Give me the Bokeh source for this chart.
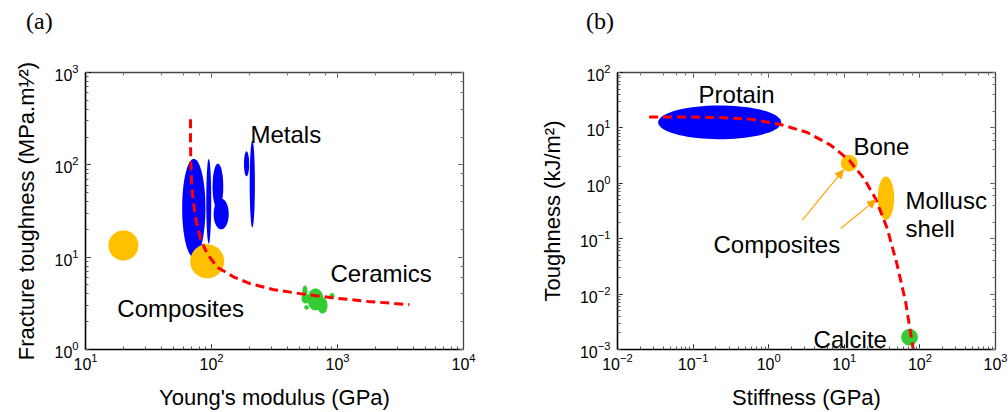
import numpy as np
from bokeh.plotting import figure
from bokeh.models import LogAxis, Label, Arrow, NormalHead, CustomJSTickFormatter, Div
from bokeh.layouts import row, column
from bokeh.embed import file_html
from bokeh.resources import INLINE

# ---------------- Panel (a): fracture toughness vs Young's modulus ----------------
# each region given as its range: modulus (GPa) low/high, toughness (MPa.m^1/2) low/high
metals_E_lo = [58.5, 90.9, 102, 104, 181, 201]
metals_E_hi = [89.5, 99.5, 124, 137, 199, 221]
metals_K_lo = [10.0, 14.0, 33, 20, 75, 21]
metals_K_hi = [116, 116, 103, 43, 140, 183]

compa_E_lo = [15.2, 67.8]
compa_E_hi = [26.3, 126]
compa_K_lo = [9.2, 5.9]
compa_K_hi = [19.5, 13.8]

ceram_E_lo = [578, 693, 527, 545, 864, 518]
ceram_E_hi = [774, 833, 578, 591, 947, 600]
ceram_K_lo = [2.65, 2.45, 3.85, 2.70, 3.52, 3.15]
ceram_K_hi = [4.58, 3.66, 4.93, 3.02, 4.09, 4.04]

trend_a_E = [68.1, 68.1, 68.5, 69.3, 71.5, 75.5, 81.7, 92.4, 110.9, 150.6, 204, 313, 511, 940, 1734, 3715]
trend_a_K = [311, 181.6, 110.5, 67.2, 40.9, 24.9, 15.8, 10.9, 7.8, 6.09, 5.15, 4.44, 4.02, 3.61, 3.32, 3.06]

# ---------------- Panel (b): toughness vs stiffness ----------------
protein_E = [0.0345, 1.463]
protein_T = [6.25, 25.4]
bone_E = [9.0, 14.95]
bone_T = [1.63, 3.25]
mollusc_E = [27.7, 45.7]
mollusc_T = [0.219, 1.33]
calcite_E = [56.6, 93.8]
calcite_T = [0.00118, 0.002355]

trend_b_E = [0.0262, 0.076, 0.21, 0.578, 1.44, 3.25, 6.6, 11.6, 18.2, 25.9, 37.0, 50.1, 64.7, 81.7]
trend_b_T = [15.8, 15.8, 15.4, 14.4, 11.5, 8.26, 4.88, 2.62, 1.22, 0.532, 0.153, 0.0333, 0.00725, 0.001]

arrow_from_E = [2.79, 8.95]
arrow_from_T = [0.216, 0.153]
arrow_to_E = [9.7, 25.9]
arrow_to_T = [1.73, 0.497]

BLUE = "#0000FF"
ORANGE = "#FFC000"
GREEN = "#33CC33"
RED = "#FF0000"
ARROW = "#FFA500"
FONT = "Liberation Sans"


def ellipse_outline(xlo, xhi, ylo, yhi, n=72):
    """Outline of an ellipse spanning a data range, built in log space."""
    lx0, lx1 = np.log10(xlo), np.log10(xhi)
    ly0, ly1 = np.log10(ylo), np.log10(yhi)
    cx, cy = (lx0 + lx1) / 2, (ly0 + ly1) / 2
    rx, ry = (lx1 - lx0) / 2, (ly1 - ly0) / 2
    t = np.linspace(0, 2 * np.pi, n)
    return list(10 ** (cx + rx * np.cos(t))), list(10 ** (cy + ry * np.sin(t)))


def regions(xlo, xhi, ylo, yhi):
    xs, ys = [], []
    for a, b, c, d in zip(xlo, xhi, ylo, yhi):
        ex, ey = ellipse_outline(a, b, c, d)
        xs.append(ex)
        ys.append(ey)
    return xs, ys


def style(p):
    p.xgrid.visible = False
    p.ygrid.visible = False
    p.outline_line_color = None
    p.background_fill_color = "white"
    p.border_fill_color = "white"
    for ax in (p.xaxis[0], p.yaxis[0]):
        ax.axis_line_color = "black"
        ax.axis_line_width = 1.6
        ax.major_tick_in = 5
        ax.major_tick_out = 0
        ax.minor_tick_in = 3
        ax.minor_tick_out = 0
        ax.major_tick_line_color = "black"
        ax.minor_tick_line_color = "#555555"
        ax.major_label_text_font = FONT
        ax.major_label_text_font_size = "16px"
        ax.major_label_text_color = "black"
        ax.axis_label_text_font = FONT
        ax.axis_label_text_font_size = "22px"
        ax.axis_label_text_font_style = "normal"
        ax.axis_label_text_color = "black"
    p.xaxis[0].major_label_standoff = 3
    p.yaxis[0].major_label_standoff = 7
    p.xaxis[0].axis_label_standoff = 12
    p.yaxis[0].axis_label_standoff = 12
    for loc in ("above", "right"):
        ax = LogAxis(formatter=CustomJSTickFormatter(code="return ''"))
        ax.axis_line_color = "#444444"
        ax.axis_line_width = 1.3
        ax.major_tick_in = 5
        ax.major_tick_out = 0
        ax.minor_tick_in = 3
        ax.minor_tick_out = 0
        ax.major_tick_line_color = "#444444"
        ax.minor_tick_line_color = "#777777"
        ax.major_label_standoff = 0
        p.add_layout(ax, loc)


def text(p, x, y, s, size="24px", font=FONT):
    p.add_layout(Label(x=x, y=y, text=s, text_font=font, text_font_size=size,
                       text_color="black", text_baseline="alphabetic", text_align="left"))


def panel_tag(s, w, left):
    html = ('<div style="position:relative; left:%dpx; top:9px; font-family:\'Liberation Serif\';'
            ' font-size:24px; line-height:24px; color:black; white-space:nowrap;">%s</div>' % (left, s))
    return Div(text=html, width=w, height=36, margin=0)


# ---------------- build panel (a) ----------------
pa = figure(x_axis_type="log", y_axis_type="log", x_range=(10, 1e4), y_range=(1, 1e3),
            frame_width=378, frame_height=277,
            min_border_left=85, min_border_right=37, min_border_top=36, min_border_bottom=63,
            x_axis_label="Young's modulus (GPa)",
            y_axis_label="Fracture toughness (MPa.m\u00b9\u2044\u00b2)",
            output_backend="svg", toolbar_location=None)
style(pa)
xs, ys = regions(metals_E_lo, metals_E_hi, metals_K_lo, metals_K_hi)
pa.patches(xs, ys, fill_color=BLUE, line_color=None)
xs, ys = regions(compa_E_lo, compa_E_hi, compa_K_lo, compa_K_hi)
pa.patches(xs, ys, fill_color=ORANGE, line_color=None)
xs, ys = regions(ceram_E_lo, ceram_E_hi, ceram_K_lo, ceram_K_hi)
pa.patches(xs, ys, fill_color=GREEN, line_color=None)
pa.line(trend_a_E, trend_a_K, line_color=RED, line_width=3, line_dash="9 5")
text(pa, 204, 213, "Metals")
text(pa, 880, 6.65, "Ceramics")
text(pa, 17.9, 2.78, "Composites")

# ---------------- build panel (b) ----------------
pb = figure(x_axis_type="log", y_axis_type="log", x_range=(1e-2, 1e3), y_range=(1e-3, 1e2),
            frame_width=378, frame_height=277,
            min_border_left=117, min_border_right=13, min_border_top=36, min_border_bottom=63,
            x_axis_label="Stiffness (GPa)",
            y_axis_label="Toughness (kJ/m\u00b2)",
            output_backend="svg", toolbar_location=None)
style(pb)
for ex, ey, col in ((protein_E, protein_T, BLUE), (bone_E, bone_T, ORANGE),
                    (mollusc_E, mollusc_T, ORANGE), (calcite_E, calcite_T, GREEN)):
    xs, ys = ellipse_outline(ex[0], ex[1], ey[0], ey[1])
    pb.patch(xs, ys, fill_color=col, line_color=None)
pb.line(trend_b_E, trend_b_T, line_color=RED, line_width=3, line_dash="9 5")
for i in range(len(arrow_from_E)):
    pb.add_layout(Arrow(end=NormalHead(size=8, fill_color=ARROW, line_color=ARROW),
                        x_start=arrow_from_E[i], y_start=arrow_from_T[i],
                        x_end=arrow_to_E[i], y_end=arrow_to_T[i],
                        line_color=ARROW, line_width=1.2))
text(pb, 0.118, 40.1, "Protain")
text(pb, 13.2, 4.61, "Bone")
text(pb, 64.6, 0.49, "Mollusc")
text(pb, 64.6, 0.153, "shell")
text(pb, 0.186, 0.0785, "Composites")
text(pb, 3.92, 0.00152, "Calcite")

tags = row(panel_tag("(a)", 500, 26), panel_tag("(b)", 508, 86), spacing=0)
layout = column(tags, row(pa, pb, spacing=0), spacing=0)
open("out.html", "w").write(file_html(layout, INLINE))
